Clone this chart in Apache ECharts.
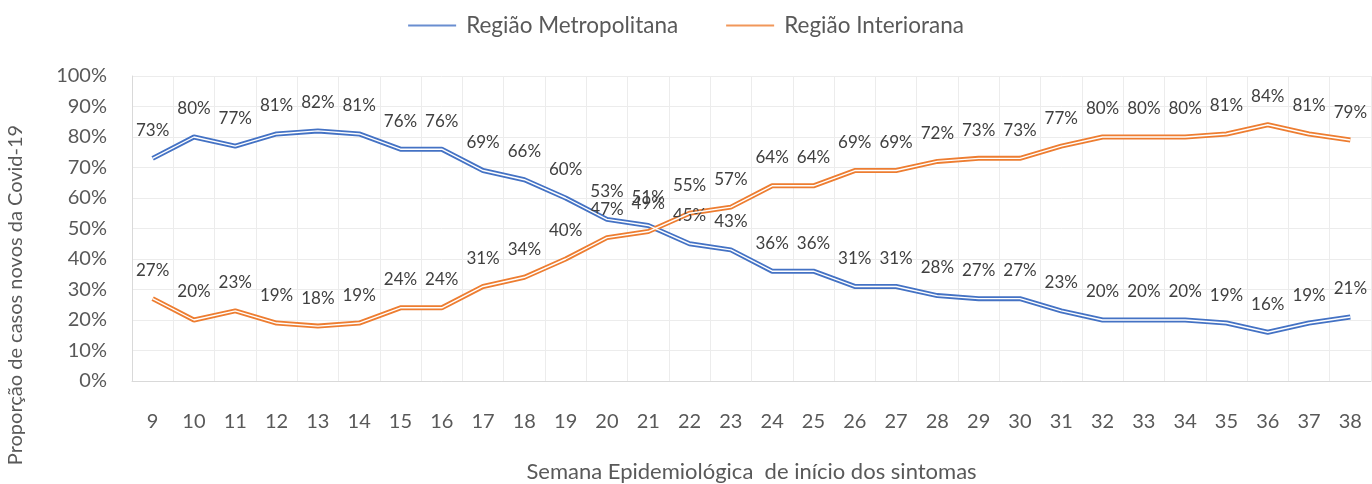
<!DOCTYPE html>
<html>
<head>
<meta charset="utf-8">
<script src="https://cdn.jsdelivr.net/npm/echarts@6/dist/echarts.min.js"></script>
<style>
html,body{margin:0;padding:0;background:#fff;}
#chart{width:1372px;height:484px;}
</style>
</head>
<body>
<div id="chart"></div>
<script>
var semanas = ['9','10','11','12','13','14','15','16','17','18','19','20','21','22','23','24','25','26','27','28','29','30','31','32','33','34','35','36','37','38'];
var metropolitana = [73, 80, 77, 81, 82, 81, 76, 76, 69, 66, 60, 53, 51, 45, 43, 36, 36, 31, 31, 28, 27, 27, 23, 20, 20, 20, 19, 16, 19, 21];
var interiorana = [27, 20, 23, 19, 18, 19, 24, 24, 31, 34, 40, 47, 49, 55, 57, 64, 64, 69, 69, 72, 73, 73, 77, 80, 80, 80, 81, 84, 81, 79];

var fonte = 'Lato, "Open Sans", sans-serif';
var azul = '#4472C4';
var laranja = '#ED7D31';

var grafico = echarts.init(document.getElementById('chart'));

// linha dupla estilo Excel: linha colorida + fio branco por cima
function serieLinha(nome, dados, cor) {
	return {
		name: nome,
		type: 'line',
		data: dados,
		symbol: 'circle',
		symbolSize: 1,
		itemStyle: { color: 'rgba(0,0,0,0)' },
		lineStyle: { color: cor, width: 5 },
		label: {
			show: true,
			position: 'top',
			distance: 19,
			formatter: '{c}%',
			fontFamily: fonte,
			fontSize: 17,
			color: '#404040'
		},
		z: 2
	};
}
function serieFio(dados) {
	return {
		type: 'line',
		data: dados,
		symbol: 'none',
		silent: true,
		lineStyle: { color: '#ffffff', width: 1.4 },
		z: 3
	};
}

var opcao = {
	animation: false,
	legend: {
		top: 9,
		left: 'center',
		itemWidth: 48,
		itemHeight: 14,
		itemGap: 48,
		textStyle: { fontFamily: fonte, fontSize: 22.5, color: '#595959', padding: [0, 0, 0, 5] },
		data: [
			{ name: 'Região Metropolitana', icon: 'path://M0,0 L48,0 L48,2 L0,2 Z', itemStyle: { color: azul, opacity: 0.8 } },
			{ name: 'Região Interiorana', icon: 'path://M0,0 L48,0 L48,2 L0,2 Z', itemStyle: { color: laranja, opacity: 0.8 } }
		]
	},
	grid: { left: 132, right: 1, top: 76, bottom: 103, outerBoundsMode: 'none' },
	xAxis: {
		type: 'category',
		data: semanas,
		boundaryGap: true,
		axisLine: { lineStyle: { color: '#d9d9d9' } },
		axisTick: { show: false },
		splitLine: { show: true, lineStyle: { color: '#ececec' } },
		axisLabel: { fontFamily: fonte, fontSize: 20, color: '#595959', margin: 31 },
		name: 'Semana Epidemiológica  de início dos sintomas',
		nameLocation: 'middle',
		nameGap: 80,
		nameTextStyle: { fontFamily: fonte, fontSize: 22, color: '#595959' }
	},
	yAxis: {
		type: 'value',
		min: 0,
		max: 100,
		interval: 10,
		axisLine: { show: true, lineStyle: { color: '#d9d9d9' } },
		axisTick: { show: false },
		splitLine: { lineStyle: { color: '#ececec' } },
		axisLabel: { formatter: '{value}%', fontFamily: fonte, fontSize: 20, color: '#595959', margin: 25 },
		name: 'Proporção de casos novos da Covid-19',
		nameLocation: 'middle',
		nameGap: 106,
		nameTextStyle: { fontFamily: fonte, fontSize: 20, color: '#595959', padding: [0, 133, 0, 0] }
	},
	series: [
		serieLinha('Região Metropolitana', metropolitana, azul),
		serieLinha('Região Interiorana', interiorana, laranja),
		serieFio(metropolitana),
		serieFio(interiorana)
	]
};
grafico.setOption(opcao);
</script>
</body>
</html>
